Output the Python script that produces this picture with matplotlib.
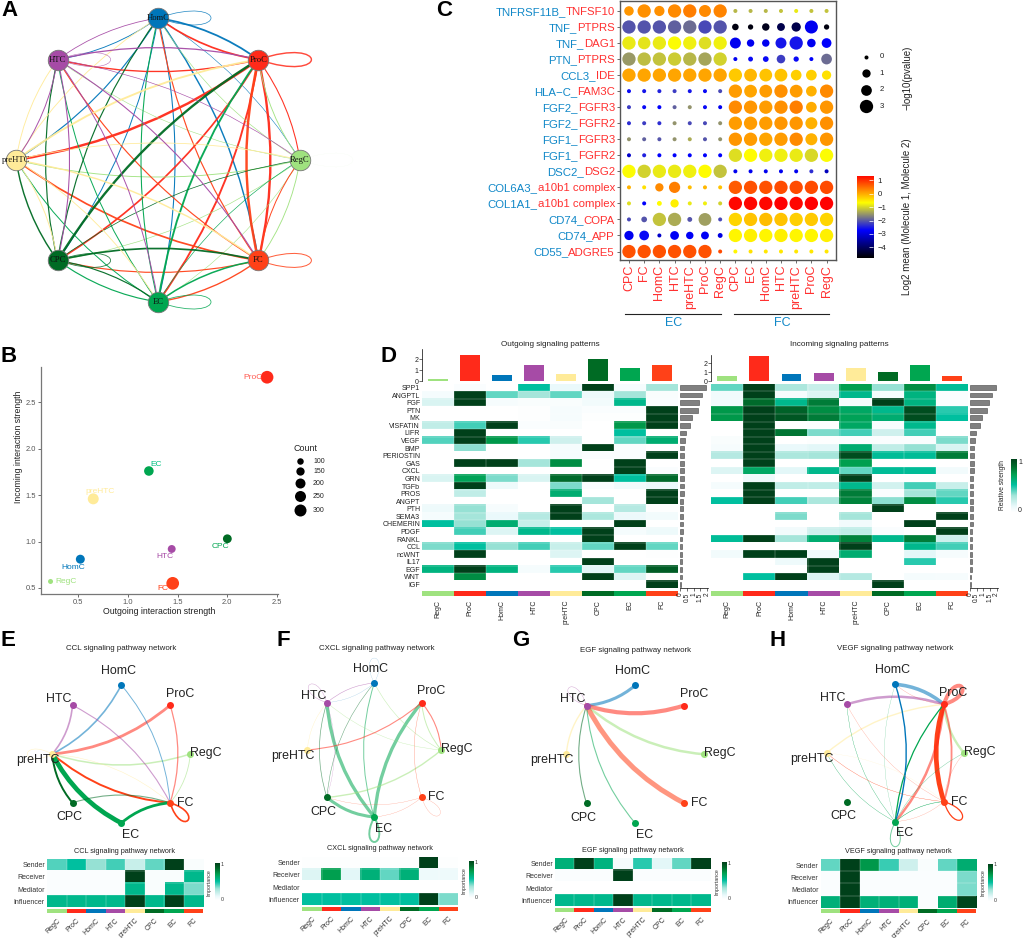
import numpy as np
import matplotlib
matplotlib.use("Agg")
import matplotlib.pyplot as plt
from matplotlib.colors import LinearSegmentedColormap
from matplotlib.patches import FancyArrowPatch, PathPatch
from matplotlib.path import Path

plt.rcParams["font.family"] = "Liberation Sans"

W, H = 1024, 938

# ---- shared cell groups ----
heat_order = ["RegC", "ProC", "HomC", "HTC", "preHTC", "CPC", "EC", "FC"]
ring_order = ["HomC", "ProC", "RegC", "FC", "EC", "CPC", "preHTC", "HTC"]
cell_colors = {"RegC": "#9FE27F", "ProC": "#FF2A1A", "HomC": "#0076BA", "HTC": "#A64BA6",
               "preHTC": "#FFEB99", "CPC": "#006B24", "EC": "#00A650", "FC": "#FF4118"}

# ---- panel A: weight per sender, receivers in ring_order ----
net_all = {
    "HomC": [0.8, 2.0, 0.6, 1.6, 1.2, 1.1, 1.3, 1.0],
    "ProC": [1.9, 1.6, 1.2, 2.6, 2.1, 1.9, 2.7, 1.5],
    "RegC": [0.7, 1.0, 0.12, 1.0, 0.6, 0.7, 1.0, 0.6],
    "FC": [1.3, 2.7, 1.1, 1.1, 1.5, 1.3, 1.9, 1.3],
    "EC": [1.2, 2.1, 0.7, 1.7, 0.9, 1.3, 1.1, 1.1],
    "CPC": [1.3, 2.6, 0.8, 1.9, 1.3, 0.9, 1.6, 1.3],
    "preHTC": [1.0, 2.1, 0.9, 1.6, 1.0, 1.1, 0.0, 1.0],
    "HTC": [0.9, 1.4, 0.7, 1.2, 1.1, 1.2, 1.1, 0.6],
}

# ---- panel B ----
out_strength = [0.22, 2.40, 0.52, 1.44, 0.65, 2.00, 1.21, 1.45]
in_strength = [0.57, 2.77, 0.81, 0.92, 1.46, 1.03, 1.76, 0.55]
link_count = [45, 300, 165, 135, 240, 160, 185, 300]
count_ticks = [100, 150, 200, 250, 300]

# ---- panel C ----
pairs = [("TNFRSF11B_", "TNFSF10"), ("TNF_", "PTPRS"), ("TNF_", "DAG1"), ("PTN_", "PTPRS"),
         ("CCL3_", "IDE"), ("HLA\u2212C_", "FAM3C"), ("FGF2_", "FGFR3"), ("FGF2_", "FGFR2"),
         ("FGF1_", "FGFR3"), ("FGF1_", "FGFR2"), ("DSC2_", "DSG2"), ("COL6A3_", "a10b1 complex"),
         ("COL1A1_", "a10b1 complex"), ("CD74_", "COPA"), ("CD74_", "APP"), ("CD55_", "ADGRE5")]
dot_cells = ["CPC", "FC", "HomC", "HTC", "preHTC", "ProC", "RegC",
             "CPC", "EC", "HomC", "HTC", "preHTC", "ProC", "RegC"]
log2_mean = [
    [.1, .15, .15, .2, .3, .2, .25, -1.3, -1.3, -1.3, -1.2, -.9, -1.2, -1.2],
    [-2.1, -2.1, -2.1, -2.0, -1.9, -2.2, -2.1, -4.7, -4.7, -4.6, -4.2, -4.2, -2.9, -4.7],
    [-.9, -.95, -.9, -.75, -.85, -1.0, -.85, -2.9, -2.9, -2.9, -2.6, -2.6, -2.9, -2.8],
    [-1.55, -1.25, -1.2, -1.15, -1.3, -1.45, -1.1, -2.9, -2.7, -2.7, -2.3, -2.7, -2.8, -1.9],
    [0, 0, 0, 0, 0, 0, -.02, -.3, -.15, -.25, -.25, -.35, -.35, -.5],
    [-2.7, -2.6, -2.5, -2.3, -2.6, -2.7, -2.2, .05, 0, .05, .15, .05, -.1, .2],
    [-2.3, -2.7, -2.8, -2.0, -1.6, -2.7, -2.9, .2, .1, .05, .15, .3, -.05, .1],
    [-2.4, -2.3, -2.4, -1.6, -2.2, -2.2, -1.6, .05, .05, .05, .1, .1, -.1, .15],
    [-1.6, -2.0, -2.1, -1.6, -1.4, -2.1, -1.6, .1, .05, 0, .05, .2, -.1, .1],
    [-3.2, -2.5, -2.8, -2.8, -2.8, -2.8, -2.8, -1.0, -.7, -.85, -.85, -.9, -1.05, -.75],
    [-.75, -1.1, -.9, -.9, -.85, -.7, -1.2, -2.9, -2.9, -2.9, -2.9, -2.9, -2.4, -3.3],
    [-.1, -.5, .2, .3, -.2, -.15, -.25, .6, .65, .65, .7, .7, .7, .7],
    [-1.0, -2.8, -.7, -.6, -.9, -.85, -1.1, 1.25, 1.25, 1.25, 1.3, 1.25, 1.3, 1.3],
    [-2.2, -2.1, -1.2, -1.4, -2.1, -1.5, -2.2, -.4, -.25, -.2, -.25, -.35, -.3, -.4],
    [-2.9, -2.7, -3.2, -2.85, -2.85, -2.85, -3.0, -.65, -.6, -.65, -.6, -.65, -.65, -.6],
    [.65, .65, .65, .65, .65, .65, .7, -.65, -.5, -.55, -.55, -.55, -.55, -.55],
]
log10_p = [
    [1.5, 3, 1.8, 3, 3, 2.5, 3, 0, 0, 0, 0, 0, 0, 0],
    [3, 3, 3, 3, 3, 3, 3, .6, .3, .8, .9, 1.4, 2.9, .3],
    [3, 2.7, 3, 3, 3, 2.7, 3, 2.1, .8, .8, 2.1, 3, 1.1, 1.6],
    [3, 3, 3, 3, 3, 3, 3, 0, .2, .4, 1.1, .3, 0, 2],
    [3, 3, 3, 3, 3, 3, 3, 3, 2.8, 2.8, 2.8, 2, 2, 1.4],
    [0, 0, 0, 0, 0, 0, 0, 3, 2.8, 2.8, 3, 2.8, 2, 3],
    [0, 0, 0, 0, 0, 0, 0, 3, 3, 3, 3, 3, 2, 3],
    [0, 0, 0, 0, 0, 0, 0, 3, 3, 3, 3, 3, 2.5, 3],
    [0, 0, 0, 0, 0, 0, 0, 3, 3, 3, 3, 3, 2.5, 3],
    [0, 0, 0, 0, 0, 0, 0, 3, 3, 3, 3, 3, 3, 3],
    [3, 3, 3, 3, 3, 3, 3, 0, 0, 0, 0, 0, 0, 0],
    [0, 0, 1, 2.2, 0, 0, 0, 3, 3, 3, 3, 3, 3, 3],
    [0, 0, .2, 1, 0, 0, 0, 3, 3, 3, 3, 3, 3, 3],
    [0, .4, 3, 3, .2, 2.8, 0, 3, 3, 3, 3, 3, 3, 3],
    [1.4, 1.6, 0, 1.2, .8, .9, .2, 3, 3, 3, 3, 3, 3, 3],
    [3, 3, 3, 3, 3, 3, 0, 0, 0, 0, 0, 0, 0, 0],
]
p_levels = [0, 1, 2, 3]
p_diam_px = [4, 8.3, 10.7, 13.3]

# ---- panel D ----
pathways = ["SPP1", "ANGPTL", "FGF", "PTN", "MK", "VISFATIN", "LIFR", "VEGF", "BMP", "PERIOSTIN",
            "GAS", "CXCL", "GRN", "TGFb", "PROS", "ANGPT", "PTH", "SEMA3", "CHEMERIN", "PDGF",
            "RANKL", "CCL", "ncWNT", "IL17", "EGF", "WNT", "IGF"]
outgoing = [
    [0, .02, 0, .5, .1, 1, .05, .3], [.05, 1, .38, .3, .38, .08, .3, .03],
    [.15, 1, .04, .03, .03, .06, .55, .02], [0, 0, 0, .01, .04, .02, .02, 1],
    [0, 0, 0, .01, .04, .01, .01, 1], [.22, .42, 1, .02, .03, 0, .72, 1],
    [0, 1, 0, 0, 0, 0, .5, 0], [.4, 1, .72, .45, .18, 0, .38, .62],
    [0, .33, 0, 0, .05, 1, .02, 0], [0, 0, 0, 0, .05, .02, .02, 1],
    [0, 1, 1, .3, .75, 0, 1, 0], [0, 0, 0, 0, 0, 0, 1, .02],
    [.15, .68, .35, .15, .85, 1, .5, .85], [0, 1, .08, 0, .35, .02, .07, .09],
    [0, .22, 0, 0, .62, 0, 0, 1], [0, 0, 0, 0, 0, .3, 0, 1],
    [.08, .32, .04, 0, 1, 0, .25, .01], [.05, .3, .1, .25, 1, .28, .09, .06],
    [.5, .32, .62, .2, 0, 0, 1, 0], [0, .42, .14, .55, .5, 1, .05, .08],
    [0, 0, 0, 0, 0, 1, 0, 0], [.35, .5, .32, .42, .2, .38, 1, .38],
    [0, 1, 0, 0, .14, 0, 0, .01], [0, 0, 0, 0, 0, 1, 0, 0],
    [.58, 1, .58, .05, .45, .12, .38, .9], [0, .75, 0, 0, 0, 1, .14, .01],
    [0, 0, 0, 0, 0, 0, 0, 1],
]
incoming = [
    [.38, 1, .28, .2, .7, .32, .75, .52], [.07, 1, .04, .14, .55, .05, .58, .02],
    [.07, .85, .55, .8, .04, 1, .58, .02], [.72, 1, .88, .75, .65, .55, .95, .45],
    [.72, 1, .92, .8, .68, .62, .95, .5], [0, 1, 0, .01, .65, .03, .55, 0],
    [0, 1, .82, .35, .42, .18, .42, 0], [.03, 1, 0, .01, .02, .02, .02, .35],
    [.04, 1, .1, .12, .62, .22, .32, .15], [.25, 1, .28, .3, .95, .52, .52, .8],
    [0, 1, 0, 0, .7, 0, 0, 0], [.14, .65, .12, .55, .38, .52, .52, .06],
    [0, .08, 0, 0, 1, 0, 0, 0], [.05, 1, .22, .22, .55, .17, .42, .2],
    [0, 1, 0, 0, .8, .02, .3, .38], [.5, 1, .42, .28, .78, .33, .75, .45],
    [0, 0, 0, 0, 0, 1, 0, 0], [0, 0, .35, 0, .3, 0, 0, 1],
    [0, 0, 0, 0, .06, 0, 1, 0], [0, 0, .06, .18, .22, .02, 0, 1],
    [.52, 1, .3, .62, .78, .55, .8, .18], [0, 0, 0, 0, 1, 0, .55, .42],
    [.06, 1, 1, .07, .62, 0, .12, .04], [0, 0, .08, 1, 0, 0, .45, 0],
    [0, 0, 0, 1, 0, 0, 0, 0], [0, .5, 1, .14, .25, 0, .05, .04],
    [0, 0, 0, 0, 0, 1, 0, 0],
]
pathway_total_out = [1.9, 1.65, 1.4, 1.3, .85, .75, .4, .35, .3, .3, .28, .28, .25, .25, .25, .22,
                     .2, .2, .2, .18, .15, .15, .15, .13, .13, .1, .04]
pathway_total_in = [1.95, 1.65, 1.4, 1.3, .9, .78, .42, .35, .3, .3, .28, .28, .25, .25, .25, .22,
                    .2, .2, .2, .18, .15, .15, .15, .13, .13, .1, .04]

# ---- panels E-H: (sender, receiver, width) ----
ccl_edges = [("HTC", "preHTC", 1.2), ("HomC", "preHTC", 1.2), ("ProC", "preHTC", 2.0), ("RegC", "preHTC", 1.1),
             ("FC", "preHTC", 1.4), ("EC", "preHTC", 3.4), ("CPC", "preHTC", 1.4), ("preHTC", "preHTC", .4),
             ("HomC", "FC", .7), ("HTC", "FC", .8), ("ProC", "FC", .9), ("RegC", "FC", .6), ("EC", "FC", 2.0),
             ("CPC", "FC", .8), ("FC", "FC", 1.2), ("preHTC", "FC", .4)]
cxcl_edges = [("EC", "HTC", 2.4), ("EC", "ProC", 2.4), ("EC", "CPC", 2.2), ("EC", "EC", 1.4), ("EC", "HomC", .7),
              ("CPC", "HomC", .4), ("RegC", "CPC", 1.0), ("RegC", "ProC", .7), ("RegC", "HTC", .3),
              ("RegC", "HomC", .4), ("ProC", "RegC", .8), ("ProC", "preHTC", .8), ("HTC", "HomC", .4),
              ("HTC", "HTC", .3), ("HomC", "HomC", .15), ("FC", "ProC", .3), ("FC", "FC", .2), ("FC", "EC", .2),
              ("FC", "CPC", .2), ("preHTC", "HTC", .3), ("HTC", "CPC", .2), ("CPC", "HTC", .5), ("HomC", "HTC", .15)]
egf_edges = [("HomC", "HTC", 2.2), ("ProC", "HTC", 3.0), ("RegC", "HTC", 1.8), ("FC", "HTC", 3.6), ("EC", "HTC", .8),
             ("CPC", "HTC", .8), ("preHTC", "HTC", 1.0), ("HTC", "HTC", .3)]
vegf_edges = [("HomC", "ProC", 2.6), ("HTC", "ProC", 1.8), ("preHTC", "ProC", 1.0), ("RegC", "ProC", 1.7),
              ("FC", "ProC", 3.4), ("EC", "ProC", .9), ("ProC", "ProC", 2.8), ("ProC", "EC", 1.8),
              ("ProC", "FC", 1.3), ("HomC", "EC", 1.0), ("FC", "FC", .9), ("EC", "HomC", .2), ("EC", "HTC", .2),
              ("EC", "preHTC", .2), ("EC", "RegC", .3), ("EC", "FC", .3), ("EC", "EC", .7), ("FC", "preHTC", .2),
              ("FC", "EC", .2), ("FC", "RegC", .2), ("FC", "HTC", .2), ("ProC", "HomC", .2), ("preHTC", "FC", .15)]
# edges that read as fully opaque in the picture
solid_edges = {("FC", "preHTC"), ("EC", "preHTC"), ("CPC", "preHTC"), ("EC", "FC"), ("FC", "ProC"),
               ("HomC", "EC"), ("EC", "ProC"), ("FC", "FC"), ("EC", "HTC")}

roles = ["Sender", "Receiver", "Mediator", "Influencer"]
ccl_roles = [[.4, .5, .32, .42, .2, .38, 1, .03], [.02, .02, .02, .02, 1, .03, .03, .55],
             [.02, .02, .02, .02, .55, .03, .55, .35], [.55, .55, .55, .55, 1, .55, 1, .55]]
cxcl_roles = [[.01, .01, .01, .01, .01, .01, 1, .01], [.14, .7, .12, .6, .38, .6, .08, .08],
              [0, 0, 0, 0, 0, 0, 0, 0], [.5, .5, .5, .5, .5, .5, 1, .35]]
egf_roles = [[.6, 1, .58, .05, .45, .12, .38, 1], [.02, .02, .02, 1, .02, .02, .02, .02],
             [0, 0, 0, 0, 0, 0, 0, 0], [.55, .55, .55, 1, .55, .55, .55, .55]]
vegf_roles = [[.38, 1, .72, .43, .18, .03, .38, .62], [.02, 1, .02, .02, .02, .02, .02, .35],
              [.02, 1, .02, .02, .02, .02, .02, .35], [.6, 1, .6, .6, .6, .02, .62, .98]]

dot_cmap = LinearSegmentedColormap.from_list("dots", ["black", "blue", "yellow", "red"], 256)
heat_cmap = LinearSegmentedColormap.from_list(
    "heat", [(0, "#FFFFFF"), (.1, "#EAF9FB"), (.3, "#A5E5DA"), (.5, "#00C0A0"),
             (.7, "#00A050"), (.85, "#006B2C"), (1, "#00401A")])

fig = plt.figure(figsize=(W / 100, H / 100), dpi=100)


def px_axes(left, top, right, bottom, **kw):
    return fig.add_axes([left / W, 1 - bottom / H, (right - left) / W, (bottom - top) / H], **kw)


def px_text(x, y, s, **kw):
    kw.setdefault("ha", "center")
    kw.setdefault("va", "center")
    return fig.text(x / W, 1 - y / H, s, **kw)


def px2(d):
    # pixel diameter to scatter area
    return (np.asarray(d) * 0.72) ** 2


def ring_axes(cx, cy, r):
    # axes over the ring, one data unit is one radius
    ax = px_axes(cx - 1.75 * r, cy - 1.75 * r, cx + 1.75 * r, cy + 1.75 * r)
    ax.set_xlim(-1.75, 1.75)
    ax.set_ylim(-1.75, 1.75)
    ax.axis("off")
    ax.patch.set_alpha(0)
    angles = np.deg2rad(90 - 45 * np.arange(8))
    return ax, {c: (np.cos(a), np.sin(a)) for c, a in zip(ring_order, angles)}


def draw_loop(ax, p, angle, length, half, color, lw, alpha):
    a = np.deg2rad(angle)
    u = np.array([np.cos(a), np.sin(a)])
    v = np.array([-u[1], u[0]])
    p = np.array(p)
    verts = [p, p + u * length / .75 + v * half / .289, p + u * length / .75 - v * half / .289, p]
    ax.add_patch(PathPatch(Path(verts, [Path.MOVETO, Path.CURVE4, Path.CURVE4, Path.CURVE4]),
                           fc="none", ec=color, lw=lw, alpha=alpha, zorder=2))


def draw_edge(ax, a, b, color, lw, rad, alpha):
    ax.add_patch(FancyArrowPatch(a, b, arrowstyle="-", connectionstyle=f"arc3,rad={rad}", color=color,
                                 lw=lw, alpha=alpha, shrinkA=0, shrinkB=0, zorder=2, capstyle="round"))


def heat_mesh(ax, matrix):
    m = np.array(matrix)
    ax.imshow(m, cmap=heat_cmap, vmin=0, vmax=1, aspect="auto", interpolation="nearest",
              extent=[0, m.shape[1], m.shape[0], 0])
    ax.hlines(np.arange(1, m.shape[0]), 0, m.shape[1], color="white", lw=.3, alpha=.6)
    ax.vlines(np.arange(1, m.shape[1]), 0, m.shape[0], color="white", lw=.3, alpha=.6)


# ---- A ----
ax, pos = ring_axes(158, 160, 142)
for src, weights in net_all.items():
    for dst, w in zip(ring_order, weights):
        if w == 0:
            continue
        if src == dst:
            draw_loop(ax, pos[src], 0, 53 / 142, 7 / 142, cell_colors[src], w * .65,
                      .25 if w < .2 else .85)
        else:
            draw_edge(ax, pos[src], pos[dst], cell_colors[src], w * .65, -.12, .95)
for c in ring_order:
    ax.scatter(*pos[c], s=px2(20.5), color=cell_colors[c], edgecolor="#777777", lw=.6, zorder=3)
    ax.text(*pos[c], c, ha="center", va="center", fontsize=6.2, family="Liberation Serif",
            color="#111111", zorder=4)

# ---- B ----
ax = px_axes(40.7, 367.3, 277.5, 594)
ax.set_xlim(.121, 2.505)
ax.set_ylim(.435, 2.877)
sizes_b = np.interp(link_count, [45, 100, 150, 200, 250, 300], [5, 6.5, 8.5, 10, 11.2, 12.7])
ax.scatter(out_strength, in_strength, s=px2(sizes_b), c=[cell_colors[c] for c in heat_order], lw=0, zorder=3,
           clip_on=False)
label_shift = {"RegC": (5, 0, "left"), "ProC": (-14, 0, "center"), "HomC": (-7, -8, "center"),
               "HTC": (-7, -8, "center"), "preHTC": (7, 7, "center"), "CPC": (-7, -8, "center"),
               "EC": (7, 7, "center"), "FC": (-10, -5, "center")}
text_color_b = dict(cell_colors, CPC="#00A650", ProC="#FF5A50", EC="#00C080")
for c, x, y in zip(heat_order, out_strength, in_strength):
    dx, dy, ha = label_shift[c]
    ax.text(x + dx / 99.3, y + dy / 92.9, c, ha=ha, va="center", fontsize=6, color=text_color_b[c], zorder=4)
for s in ["top", "right"]:
    ax.spines[s].set_visible(False)
for s in ["left", "bottom"]:
    ax.spines[s].set_color("#777777")
    ax.spines[s].set_linewidth(.9)
ax.set_xticks([.5, 1, 1.5, 2, 2.5])
ax.set_yticks([.5, 1, 1.5, 2, 2.5])
ax.set_xticklabels(["0.5", "1.0", "1.5", "2.0", "2.5"])
ax.set_yticklabels(["0.5", "1.0", "1.5", "2.0", "2.5"])
ax.tick_params(labelsize=5.4, colors="#555555", length=2, width=.6, pad=1.5)
px_text(159, 611, "Outgoing interaction strength", fontsize=6.3, color="#222222")
px_text(19, 447, "Incoming interaction strength", fontsize=6.3, color="#222222", rotation=90)
px_text(305, 448, "Count", fontsize=6.4, color="#222222")
leg = px_axes(290, 455, 335, 516)
leg.set_xlim(290, 335)
leg.set_ylim(516, 455)
leg.axis("off")
for n, d, y in zip(count_ticks, [6.5, 8.3, 10, 11, 12], [461, 471, 483, 496, 510]):
    leg.scatter(300, y, s=px2(d), color="black", lw=0, clip_on=False)
    leg.text(313, y, str(n), fontsize=5, va="center", ha="left", color="#222222")

# ---- C ----
ax = px_axes(620, 1.5, 836, 260)
ax.set_xlim(-.59, 13.62)
ax.set_ylim(15.53, -.59)
yy, xx = np.mgrid[0:16, 0:14]
diam = np.interp(np.array(log10_p).ravel(), p_levels, p_diam_px)
ax.scatter(xx.ravel(), yy.ravel(), s=px2(diam), c=np.array(log2_mean).ravel(), cmap=dot_cmap, vmin=-4.82,
           vmax=1.32, lw=0, zorder=2)
for s in ax.spines.values():
    s.set_color("#555555")
    s.set_linewidth(1)
ax.set_xticks(range(14))
ax.set_xticklabels(dot_cells, rotation=90, fontsize=9, color="#FF3030")
ax.set_yticks(range(16))
ax.set_yticklabels([])
ax.tick_params(length=2, width=.6, color="#555555", pad=1.5)
fig.canvas.draw()
rend = fig.canvas.get_renderer()
for i, (lig, rec) in enumerate(pairs):
    y = ax.transData.transform((0, i))[1] - 4.1
    t = fig.text(615 / W, y / H, rec, ha="right", va="baseline", fontsize=8.2, color="#FF3030")
    left = t.get_window_extent(rend).x0
    fig.text(left / W, y / H, lig, ha="right", va="baseline", fontsize=8.2, color="#1188C8")
for x0, x1, lab, cx in [(625, 720.7, "EC", 674), (734, 829, "FC", 782)]:
    fig.add_artist(plt.Line2D([x0 / W, x1 / W], [1 - 314 / H] * 2, color="#222222", lw=.8))
    px_text(cx, 323, lab, fontsize=9, color="#1188C8")
leg = px_axes(855, 48, 895, 115)
leg.set_xlim(855, 895)
leg.set_ylim(115, 48)
leg.axis("off")
for lev, d, y in zip(p_levels, p_diam_px, [56.7, 73.3, 89.7, 106.3]):
    leg.scatter(866, y, s=px2(d), color="black", lw=0, clip_on=False)
    leg.text(881.7, y, str(lev), fontsize=5.6, ha="center", va="center", color="#222222")
px_text(907.5, 78, "\u2212log10(pvalue)", fontsize=7, rotation=90, color="#222222")
px_text(907.5, 217, "Log2 mean (Molecule 1, Molecule 2)", fontsize=7, rotation=90, color="#222222")
cax = px_axes(856.7, 176, 873.3, 258.3)
grad = np.linspace(1.32, -4.82, 256)[:, None]
cax.imshow(grad, aspect="auto", cmap=dot_cmap, vmin=-4.82, vmax=1.32, extent=[0, 1, -4.82, 1.32])
for s in cax.spines.values():
    s.set_visible(False)
cax.set_xticks([])
cax.yaxis.tick_right()
cax.set_yticks([1, 0, -1, -2, -3, -4])
cax.set_yticklabels(["1", "0", "\u22121", "\u22122", "\u22123", "\u22124"])
cax.tick_params(axis="y", direction="in", length=3, width=.5, color="white", labelsize=5.6, labelcolor="#222222", pad=3)


# ---- D ----
def signal_heat(left, right, matrix, totals, top_vals, unit, title, title_x, show_names):
    top, bottom = 383.7, 588.3
    ax = px_axes(left, top, right, bottom)
    heat_mesh(ax, matrix)
    ax.set_xticks([])
    ax.set_yticks(np.arange(27) + .5)
    ax.set_yticklabels(pathways if show_names else [], fontsize=5, color="#222222")
    ax.tick_params(length=0, pad=1.5)
    for s in ax.spines.values():
        s.set_visible(False)
    # colour strip and labels
    strip = px_axes(left, 590.7, right, 595.7)
    strip.bar(range(8), [1] * 8, width=1, color=[cell_colors[c] for c in heat_order])
    strip.set_xlim(-.5, 7.5)
    strip.set_ylim(0, 1)
    strip.set_yticks([])
    strip.set_xticks(range(8))
    strip.set_xticklabels(heat_order, rotation=90, fontsize=5, color="#222222")
    strip.tick_params(length=0, pad=3)
    for s in strip.spines.values():
        s.set_visible(False)
    # bars on top
    zero_y = 381
    tax = px_axes(left, zero_y - 2.9 * unit, right, zero_y)
    tax.bar(range(8), top_vals, width=.62, color=[cell_colors[c] for c in heat_order])
    tax.set_xlim(-.5, 7.5)
    tax.set_ylim(0, 2.9)
    tax.set_xticks([])
    tax.set_yticks([0, 1, 2])
    tax.tick_params(labelsize=5, length=2, width=.5, pad=1, color="#333333", labelcolor="#222222")
    tax.patch.set_alpha(0)
    for s in ["top", "right", "bottom"]:
        tax.spines[s].set_visible(False)
    tax.spines["left"].set_linewidth(.5)
    # bars on the right
    rax = px_axes(right + 2, top, right + 30, bottom)
    rax.barh(np.arange(27) + .5, totals, height=.62, color="#808080", edgecolor="#444444", linewidth=.4)
    rax.set_ylim(27, 0)
    rax.set_xlim(0, 2.1)
    rax.set_yticks([])
    rax.set_xticks([0, .5, 1, 1.5, 2])
    rax.set_xticklabels(["0", "0.5", "1", "1.5", "2"], rotation=90, fontsize=4.8, color="#222222")
    rax.tick_params(length=2, width=.5, pad=1, color="#333333")
    for s in ["top", "right", "left"]:
        rax.spines[s].set_visible(False)
    rax.spines["bottom"].set_linewidth(.5)
    px_text(title_x, 345, title, fontsize=5.9, color="#222222")


signal_heat(422.3, 678.3, outgoing, pathway_total_out, out_strength, 11, "Outgoing signaling patterns", 550, True)
signal_heat(711.3, 968, incoming, pathway_total_in, in_strength, 8.9, "Incoming signaling patterns", 839, False)

bar_ax = px_axes(1010.7, 459, 1016, 512)
bar_ax.imshow(np.linspace(1, 0, 128)[:, None], aspect="auto", cmap=heat_cmap, vmin=0, vmax=1, extent=[0, 1, -.05, 1.05])
bar_ax.set_xticks([])
bar_ax.yaxis.tick_right()
bar_ax.set_yticks([0, 1])
bar_ax.tick_params(length=0, labelsize=5, pad=1.5, labelcolor="#222222")
for s in bar_ax.spines.values():
    s.set_visible(False)
px_text(1003, 485, "Relative strength", fontsize=4.8, rotation=90, color="#222222")

# ---- E-H ----
label_offset = {"HomC": (-3.3, 14.3), "ProC": (9.7, 11.7), "RegC": (15.7, 1), "FC": (15, 0), "EC": (9.3, -11.7),
                "CPC": (-3.3, -14.7), "preHTC": (-14.3, -6), "HTC": (-13.7, 6.3)}
node_angle = dict(zip(ring_order, 90 - 45 * np.arange(8)))


def pathway_panel(cx, cy, r, edges, roles_matrix, rect, cbar_x, name, title_xy, sub_xy, solid):
    ax, pos = ring_axes(cx, cy, r)
    for src, dst, w in edges:
        alpha = 1 if solid and (src, dst) in solid_edges else .55
        if src == dst:
            draw_loop(ax, pos[src], node_angle[src], 25 / r, 5 / r, cell_colors[src], w, alpha)
        else:
            draw_edge(ax, pos[src], pos[dst], cell_colors[src], w, -.16, alpha)
    for c in ring_order:
        ax.scatter(*pos[c], s=px2(7), color=cell_colors[c], lw=0, zorder=3)
        dx, dy = label_offset[c]
        ax.text(pos[c][0] + dx / r, pos[c][1] + dy / r, c, ha="center", va="center", fontsize=8.9,
                color="#222222", zorder=4)
    left, top, right, bottom = rect
    hax = px_axes(left, top, right, bottom)
    heat_mesh(hax, roles_matrix)
    hax.set_xticks([])
    hax.set_yticks(np.arange(4) + .5)
    hax.set_yticklabels(roles, fontsize=5, color="#333333")
    hax.tick_params(length=0, pad=1.5)
    for s in hax.spines.values():
        s.set_visible(False)
    strip = px_axes(left, bottom + 1.7, right, bottom + 5.7)
    strip.bar(range(8), [1] * 8, width=1, color=[cell_colors[c] for c in heat_order])
    strip.set_xlim(-.5, 7.5)
    strip.set_ylim(0, 1)
    strip.set_yticks([])
    strip.set_xticks(range(8))
    strip.set_xticklabels(heat_order, rotation=45, ha="right", rotation_mode="anchor", fontsize=5, color="#333333")
    strip.tick_params(length=0, pad=3)
    for s in strip.spines.values():
        s.set_visible(False)
    px_text(*title_xy, f"{name} signaling pathway network", fontsize=5.7, color="#222222")
    px_text(*sub_xy, f"{name} signaling pathway network", fontsize=5.2, color="#222222")
    cb = px_axes(cbar_x, top + 4.5, cbar_x + 4.3, top + 41.5)
    cb.imshow(np.linspace(1, 0, 128)[:, None], aspect="auto", cmap=heat_cmap, vmin=0, vmax=1, extent=[0, 1, -.02, 1.02])
    cb.set_xticks([])
    cb.yaxis.tick_right()
    cb.set_yticks([0, 1])
    cb.tick_params(length=0, labelsize=3.8, pad=1, labelcolor="#333333")
    for s in cb.spines.values():
        s.set_visible(False)
    px_text(cbar_x - 5.5, top + 24, "Importance", fontsize=3.8, rotation=90, color="#333333")


pathway_panel(121.3, 754, 69, ccl_edges, ccl_roles, (47, 858.7, 203.3, 907.3), 214.7, "CCL", (121, 649), (125, 851), True)
pathway_panel(374.3, 750, 67, cxcl_edges, cxcl_roles, (302, 856.7, 458, 905.3), 469.3, "CXCL", (376.7, 648.7), (380, 848.7), False)
pathway_panel(635.3, 754.3, 69, egf_edges, egf_roles, (555, 857.7, 710.7, 906.3), 722.3, "EGF", (635.3, 650), (632.7, 850), False)
pathway_panel(895.3, 753, 68.7, vegf_edges, vegf_roles, (820.7, 859, 976.3, 907.7), 988, "VEGF", (895.3, 648.7), (898, 851), True)

# ---- panel letters ----
for letter, x, y in [("A", 10, 11), ("B", 9, 356), ("C", 444, 11), ("D", 389, 356), ("E", 8, 641), ("F", 283, 641),
                     ("G", 521, 641), ("H", 778, 641)]:
    px_text(x, y, letter, fontsize=16, fontweight="bold", color="black")

fig.savefig("out.png", dpi=100)
